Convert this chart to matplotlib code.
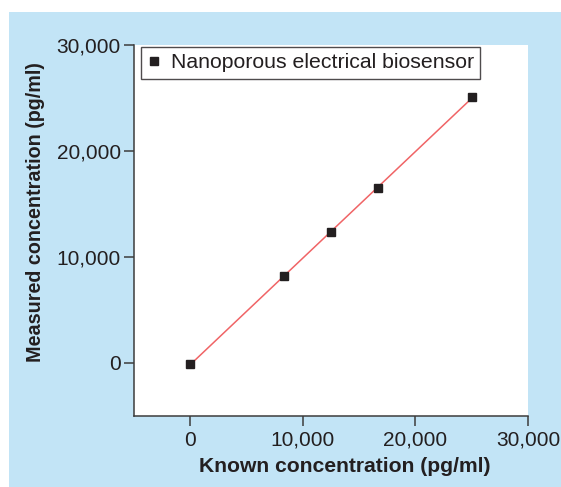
import numpy as np
import matplotlib
matplotlib.use('Agg')
import matplotlib.pyplot as plt
from matplotlib.patches import Rectangle
from matplotlib.ticker import FuncFormatter

# Data
known = [0, 8333, 12500, 16667, 25000]
measured = [-100, 8200, 12400, 16500, 25050]
x_ticks = [0, 10000, 20000, 30000]
y_ticks = [0, 10000, 20000, 30000]

plt.rcParams['font.family'] = ['Liberation Sans', 'DejaVu Sans']

W, H = 561, 487
fig = plt.figure(figsize=(W / 100, H / 100), dpi=100, facecolor='white')

# light blue panel behind everything
fig.patches.append(Rectangle((9 / W, 0), 1 - 9 / W, (H - 12) / H,
                             transform=fig.transFigure, facecolor='#c2e4f6',
                             edgecolor='none', zorder=-10))

ax = fig.add_axes([134 / W, (H - 416) / H, (528 - 134) / W, (416 - 45) / H])
ax.set_facecolor('white')

# linear fit through the points
slope, intercept = np.polyfit(known, measured, 1)
xs = np.array([min(known), max(known)])
ax.plot(xs, slope * xs + intercept, color='#f06466', linewidth=1.1, zorder=2)
ax.plot(known, measured, linestyle='none', marker='s', markersize=5.5,
        color='#231f20', label='Nanoporous electrical biosensor', zorder=3)

ax.set_xlim(-5000, 30000)
ax.set_ylim(-5000, 30000)
ax.set_xticks(x_ticks)
ax.set_yticks(y_ticks)
fmt = FuncFormatter(lambda v, p: f'{int(v):,}')
ax.xaxis.set_major_formatter(fmt)
ax.yaxis.set_major_formatter(fmt)

for side in ['top', 'right']:
    ax.spines[side].set_visible(False)
for side in ['left', 'bottom']:
    ax.spines[side].set_color('#3c3c3c')
    ax.spines[side].set_linewidth(1.1)
ax.tick_params(direction='out', length=7, width=1.1, color='#3c3c3c',
               labelsize=15, labelcolor='#231f20')
ax.tick_params(axis='y', pad=2.5)
ax.tick_params(axis='x', pad=3.5)

ax.set_xlabel('Known concentration (pg/ml)', fontsize=15.2, fontweight='bold',
              color='#231f20')
ax.set_ylabel('Measured concentration (pg/ml)', fontsize=14.2, fontweight='bold',
              color='#231f20')
ax.xaxis.set_label_coords((345 - 134) / 394, (416 - 467) / 371)
ax.yaxis.set_label_coords((35 - 134) / 394, (416 - 212) / 371)
ax.xaxis.label.set_va('center')
ax.yaxis.label.set_va('center')

leg = ax.legend(loc='upper left', bbox_to_anchor=((141 - 134) / 394, 1 - 2 / 371),
                fontsize=15.3, frameon=True, fancybox=False,
                handlelength=0.6, handletextpad=0.5, borderpad=0.3,
                borderaxespad=0, markerscale=1.0)
leg.get_frame().set_edgecolor('#231f20')
leg.get_frame().set_linewidth(1.0)
for t in leg.get_texts():
    t.set_color('#231f20')

fig.savefig('out.png', dpi=100)
